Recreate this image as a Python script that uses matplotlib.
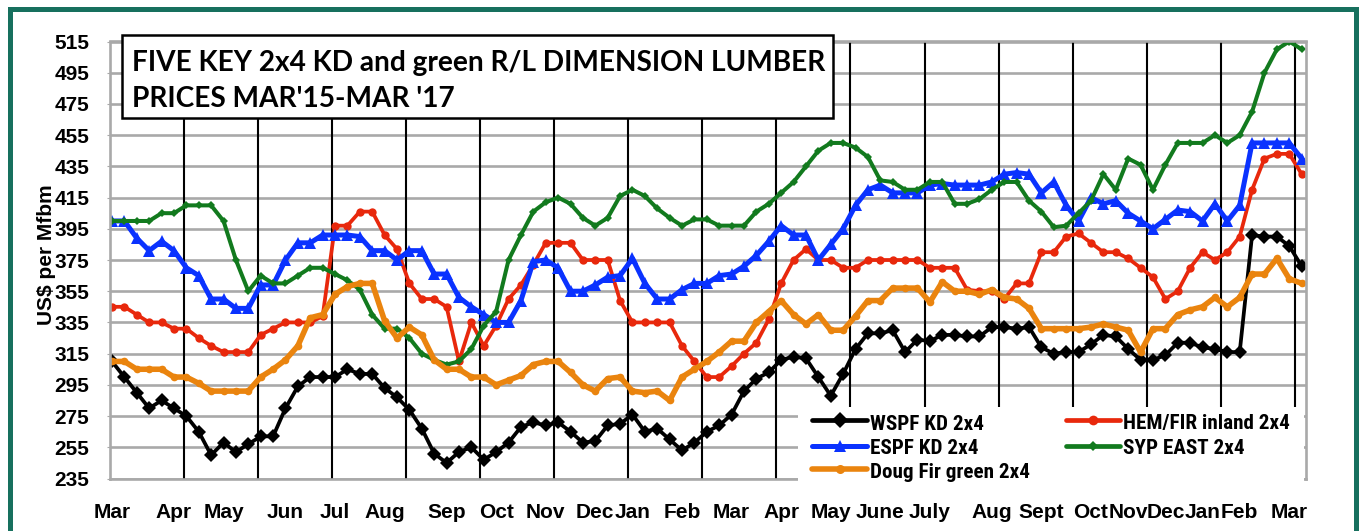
import numpy as np
import matplotlib
matplotlib.use('Agg')
import matplotlib.pyplot as plt
from matplotlib import font_manager
from matplotlib.lines import Line2D
from matplotlib.patches import Rectangle

# ---------------- data (weekly prices, US$ per Mfbm) ----------------
wspf = [310, 300, 290, 280, 285, 280, 275, 265, 250, 258, 252, 257, 262, 262, 280, 294,
        300, 300, 300, 305, 302, 302, 293, 287, 279, 267, 251, 245, 252, 255, 247, 252,
        258, 268, 271, 269, 271, 265, 258, 259, 269, 270, 276, 265, 267, 260, 253, 258,
        265, 269, 276, 291, 299, 303, 311, 313, 312, 300, 288, 302, 318, 328, 328, 330,
        316, 324, 323, 327, 327, 326, 326, 332, 332, 331, 332, 319, 315, 316, 316, 321,
        327, 326, 318, 311, 311, 314, 322, 322, 319, 318, 316, 316, 391, 390, 390, 384, 371]
hemfir = [345, 345, 340, 335, 335, 331, 331, 325, 320, 316, 316, 316, 327, 331, 335, 335,
          335, 339, 397, 397, 406, 406, 391, 382, 360, 350, 350, 345, 310, 335, 320, 333,
          350, 359, 372, 386, 386, 386, 375, 375, 375, 349, 335, 335, 335, 335, 320, 310,
          300, 300, 307, 315, 322, 337, 360, 375, 382, 375, 375, 370, 370, 375, 375, 375,
          375, 375, 370, 370, 370, 356, 355, 355, 350, 360, 360, 380, 380, 390, 392, 386,
          380, 380, 376, 370, 364, 350, 355, 370, 380, 375, 380, 390, 420, 440, 443, 443, 430]
espf = [400, 400, 389, 381, 387, 381, 370, 365, 350, 350, 344, 344, 359, 359, 375, 386,
        386, 391, 391, 391, 390, 381, 381, 375, 381, 381, 366, 366, 351, 345, 340, 335,
        335, 349, 374, 375, 370, 355, 355, 359, 364, 365, 376, 360, 350, 350, 356, 360,
        360, 365, 366, 371, 378, 387, 397, 391, 391, 375, 385, 395, 410, 420, 423, 418,
        418, 418, 423, 424, 423, 423, 423, 425, 430, 431, 430, 418, 425, 410, 400, 415,
        411, 413, 405, 400, 395, 401, 407, 406, 400, 411, 400, 410, 450, 450, 450, 450, 440]
syp = [400, 400, 400, 400, 405, 405, 410, 410, 410, 400, 375, 355, 365, 360, 360, 365,
       370, 370, 366, 362, 356, 340, 331, 331, 325, 315, 311, 308, 310, 318, 333, 342,
       375, 391, 406, 412, 415, 411, 402, 397, 402, 416, 420, 416, 408, 402, 397, 401,
       401, 397, 397, 397, 406, 411, 418, 425, 435, 445, 450, 450, 447, 441, 426, 425,
       420, 420, 425, 425, 411, 411, 414, 420, 425, 425, 413, 406, 396, 397, 405, 413,
       430, 420, 440, 436, 420, 436, 450, 450, 450, 455, 450, 455, 470, 495, 510, 515, 510]
dougfir = [310, 310, 305, 305, 305, 300, 300, 296, 291, 291, 291, 291, 300, 305, 311, 320,
           338, 340, 353, 358, 360, 360, 336, 325, 332, 327, 311, 305, 305, 300, 300, 295,
           298, 301, 308, 310, 310, 303, 295, 291, 299, 300, 291, 290, 291, 285, 300, 305,
           310, 316, 323, 323, 335, 342, 349, 340, 334, 340, 330, 330, 339, 349, 349, 357,
           357, 357, 348, 361, 355, 355, 353, 356, 351, 350, 344, 331, 331, 331, 331, 332,
           334, 332, 330, 316, 331, 331, 340, 343, 345, 351, 345, 351, 366, 366, 376, 363, 360]

series_names = ["WSPF KD 2x4", "HEM/FIR inland 2x4", "ESPF KD 2x4", "SYP EAST 2x4",
                "Doug Fir green 2x4"]

month_labels = ['Mar', 'Apr', 'May', 'Jun', 'Jul', 'Aug', 'Sep', 'Oct', 'Nov', 'Dec', 'Jan',
                'Feb', 'Mar', 'Apr', 'May', 'June', 'July', 'Aug', 'Sept', 'Oct', 'Nov', 'Dec',
                'Jan', 'Feb', 'Mar']
month_week = [0, 5, 9, 14, 18, 22, 27, 31, 35, 39, 42, 46, 50, 54, 58, 62, 66, 71, 75, 79,
              82, 85, 88, 91, 95]
y_ticks = list(range(235, 516, 20))

title_lines = ["FIVE KEY 2x4 KD and green R/L DIMENSION LUMBER", "PRICES MAR'15-MAR '17"]
y_label = "US$ per Mfbm"

# ---------------- helpers ----------------
W, H = 1362, 531


def fx(px):
    return px / W


def fy(py):
    return 1 - py / H


def has_font(name):
    try:
        font_manager.findfont(font_manager.FontProperties(family=name),
                              fallback_to_default=False)
        return True
    except Exception:
        return False


def narrow_bold_font():
    names = ['Liberation Sans Narrow', 'Arial Narrow', 'Roboto Condensed',
             'Open Sans Condensed', 'Noto Sans Condensed', 'DejaVu Sans Condensed']
    for n in names:
        for f in font_manager.fontManager.ttflist:
            if f.name == n and (f.weight in ('bold', 700) or
                                (isinstance(f.weight, int) and f.weight >= 600)):
                return font_manager.FontProperties(fname=f.fname)
    for f in font_manager.fontManager.ttflist:
        st = str(f.stretch)
        if ('condensed' in st or 'narrow' in f.fname.lower() or 'condensed' in f.fname.lower()) \
                and (f.weight in ('bold', 700) or (isinstance(f.weight, int) and f.weight >= 600)) \
                and 'oblique' not in f.fname.lower() and 'italic' not in f.fname.lower() \
                and 'mono' not in f.fname.lower() and 'serif' not in f.name.lower():
            return font_manager.FontProperties(fname=f.fname)
    return font_manager.FontProperties(family='Liberation Sans', weight='bold')


# ---------------- figure ----------------
fig = plt.figure(figsize=(W / 100, H / 100), dpi=100)
fig.patch.set_facecolor('white')

ax_l, ax_r, ax_t, ax_b = 109.5, 1306, 41.5, 478.5
ax = fig.add_axes([fx(ax_l), fy(ax_b), (ax_r - ax_l) / W, (ax_b - ax_t) / H])

grid_gray = '#a9a9a9'
x = np.arange(len(wspf))

# vertical black reference lines (every ~6 weeks)
for k in range(16):
    ax.axvline(5.78 + 5.979 * k, color='black', lw=1.5, zorder=1.5)

styles = [
    dict(color='#000000', lw=2.7, marker='D', ms=7.3),
    dict(color='#e8280c', lw=2.7, marker='o', ms=6.0),
    dict(color='#0a32ff', lw=3.6, marker='^', ms=8.3),
    dict(color='#127a1e', lw=2.9, marker='D', ms=4.3),
    dict(color='#ea840e', lw=4.0, marker='o', ms=5.5),
]
all_series = [wspf, hemfir, espf, syp, dougfir]
for i, (vals, st, name) in enumerate(zip(all_series, styles, series_names)):
    ax.plot(x, vals, color=st['color'], lw=st['lw'], marker=st['marker'],
            ms=st['ms'], mec=st['color'], mfc=st['color'], mew=0,
            label=name, zorder=2 + i * 0.1, solid_joinstyle='round')

ax.set_xlim(-0.2, 96.35)
ax.set_ylim(235, 515)
ax.set_yticks(y_ticks)
ax.set_xticks(month_week)
ax.set_xticklabels(month_labels)
ax.yaxis.grid(True, color=grid_gray, lw=1.9, zorder=0.5)
ax.set_axisbelow(True)
for sp in ax.spines.values():
    sp.set_color(grid_gray)
    sp.set_linewidth(1.9)

for lab in ax.get_yticklabels() + ax.get_xticklabels():
    lab.set_fontfamily('Liberation Sans')
    lab.set_fontweight('bold')
    lab.set_fontsize(15)
ax.tick_params(axis='y', length=2, color=grid_gray, pad=12.5)
ax.tick_params(axis='x', length=0, pad=17.5)

fig.text(fx(47), fy(255), y_label, rotation=90, ha='center', va='center',
         fontfamily='Liberation Sans', fontweight='bold', fontsize=15)

# ---------------- legend (drawn as in the Excel chart) ----------------
fig.patches.append(Rectangle((fx(798), fy(484)), (1304 - 798) / W, (484 - 407) / H,
                             transform=fig.transFigure, facecolor='white',
                             edgecolor='none', zorder=7, figure=fig))
leg_prop = narrow_bold_font()
leg_prop.set_size(15)
probe = fig.text(0, 0, series_names[1], fontproperties=leg_prop)
fig.canvas.draw()
pw = probe.get_window_extent().width
probe.remove()
leg_prop.set_size(min(16.5, 15 * 167 / pw))

cols = [(812, 867, 870), (1066, 1120, 1123)]
rows = [(420, 429.5), (445.7, 454.5), (469, 478.3)]
slots = [(0, 0), (1, 0), (0, 1), (1, 1), (0, 2)]  # WSPF, HEM, ESPF, SYP, Doug
for st, name, (c, r) in zip(styles, series_names, slots):
    x0, x1, tx = cols[c]
    ly, by = rows[r]
    fig.lines.append(Line2D([fx(x0), fx(x1)], [fy(ly), fy(ly)], transform=fig.transFigure,
                            color=st['color'], lw=max(st['lw'], 3.4),
                            solid_capstyle='round', zorder=8, figure=fig))
    fig.lines.append(Line2D([fx((x0 + x1) / 2)], [fy(ly)], transform=fig.transFigure,
                            color=st['color'], marker=st['marker'], ms=st['ms'] + 1,
                            mew=0, ls='none', zorder=8.5, figure=fig))
    fig.text(fx(tx), fy(by), name, fontproperties=leg_prop, ha='left', va='baseline',
             zorder=9)

# ---------------- title box ----------------
fig.patches.append(Rectangle((fx(121.7), fy(118.3)), (833 - 121.7) / W, (118.3 - 35) / H,
                             transform=fig.transFigure, facecolor='white',
                             edgecolor='black', lw=1.8, zorder=10, figure=fig))
title_font = 'Lato' if has_font('Lato') else 'DejaVu Sans'
t1 = fig.text(fx(131.7), fy(70.7), title_lines[0], fontfamily=title_font,
              fontweight='bold', fontsize=20, ha='left', va='baseline', zorder=11)
fig.canvas.draw()
wpx = t1.get_window_extent().width
fs = 20 * 692 / wpx
t1.set_fontsize(fs)
fig.text(fx(131.7), fy(106.7), title_lines[1], fontfamily=title_font,
         fontweight='bold', fontsize=fs, ha='left', va='baseline', zorder=11)

# ---------------- outer teal frame ----------------
fig.patches.append(Rectangle((fx(10), -0.05), (1356 - 10) / W, 1 - 8.5 / H + 0.05,
                             transform=fig.transFigure, fill=False, edgecolor='#17705e',
                             lw=3.6, zorder=12, figure=fig))

fig.savefig('out.png', dpi=100, facecolor='white')
